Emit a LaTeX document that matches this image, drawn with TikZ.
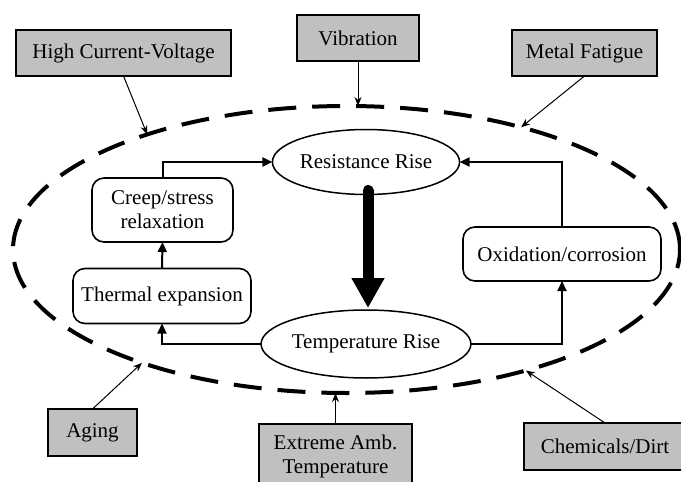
\documentclass[tikz,border=0pt]{standalone}
\usepackage{fontspec}
\setmainfont{Liberation Serif}
\usetikzlibrary{shapes.geometric,arrows.meta}
\definecolor{boxgray}{RGB}{192,192,192}
\begin{document}
\begin{tikzpicture}[x=1pt,y=-1pt,
  font=\fontsize{21}{24}\selectfont,
  factor/.style={draw, line width=1.8pt, fill=boxgray, inner sep=0pt, outer sep=0pt, align=center},
  proc/.style={draw, line width=1.6pt, rounded corners=12pt, inner sep=0pt, outer sep=0pt, align=center},
  oval/.style={draw, ellipse, line width=1.5pt, inner sep=0pt, outer sep=0pt},
  link/.style={line width=2pt, -{Triangle[length=10pt,width=9pt]}},
  cause/.style={line width=1pt, -{Stealth[length=9pt,width=7pt]}},
  envelope/.style={draw, ellipse, line width=4pt, dash pattern=on 28pt off 16pt, inner sep=0pt, outer sep=0pt}
]
\useasboundingbox (0,0) rectangle (681,482);

% dashed envelope
\node[envelope, minimum width=667pt, minimum height=287pt] (env) at (346.5,249.5) {};

% central loop
\node[oval, minimum width=168pt, minimum height=65pt] (rr) at (366,162) {Resistance Rise};
\node[oval, minimum width=168pt, minimum height=68pt] (tr) at (366,344) {Temperature Rise};
\node[proc, minimum width=141pt, minimum height=64pt] (creep) at (162.5,210) {Creep/stress\\relaxation};
\node[proc, minimum width=178pt, minimum height=55pt] (therm) at (162,296) {Thermal expansion};
\node[proc, minimum width=198pt, minimum height=54pt] (oxid) at (562,254) {Oxidation/corrosion};

\draw[link] (creep.north) |- (rr.west);
\draw[link] (oxid.north) |- (rr.east);
\draw[link] (tr.west) -| (therm.south);
\draw[link] (tr.east) -| (oxid.south);
\draw[link] (therm.north) -- (creep.south);
\draw[line width=11pt, line cap=round, -{Triangle[length=30pt,width=31pt]}] ([xshift=2pt,yshift=4pt]rr.south) -- ([xshift=2pt,yshift=2pt]tr.north);

% outside factors
\node[factor, minimum width=215pt, minimum height=46pt] (hcv) at (123.5,53) {High Current-Voltage};
\node[factor, minimum width=122pt, minimum height=46pt] (vib) at (358,38) {Vibration};
\node[factor, minimum width=145pt, minimum height=46pt] (mf) at (584.5,53) {Metal Fatigue};
\node[factor, minimum width=89pt, minimum height=47pt] (aging) at (92.5,432.5) {Aging};
\node[factor, minimum width=153pt, minimum height=65pt] (ext) at (335.5,456.5) {Extreme Amb.\\Temperature};
\node[factor, minimum width=162pt, minimum height=47pt] (chem) at (605,446.5) {Chemicals/Dirt};

\draw[cause] (hcv.south) -- (env.150.7);
\draw[cause] (vib.south) -- (vib.south |- env.north);
\draw[cause] (mf.south) -- (env.35.6);
\draw[cause] (aging.north) -- (env.209.5);
\draw[cause] (ext.north) -- (ext.north |- env.south);
\draw[cause] (chem.north) -- (env.326.3);
\end{tikzpicture}
\end{document}
